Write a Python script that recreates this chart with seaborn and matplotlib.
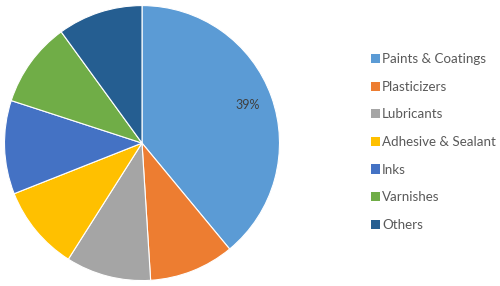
import matplotlib
matplotlib.use("Agg")
import matplotlib.pyplot as plt
import seaborn as sns
from matplotlib.patches import Patch

categories = ["Paints & Coatings", "Plasticizers", "Lubricants", "Adhesive & Sealant",
              "Inks", "Varnishes", "Others"]
shares = [39, 10, 10, 10, 11, 10, 10]
colors = ["#5B9BD5", "#ED7D31", "#A5A5A5", "#FFC000", "#4472C4", "#70AD47", "#255E91"]

sns.set_theme(style="white")
plt.rcParams['font.family'] = ['Lato', 'DejaVu Sans']
palette = sns.color_palette(colors)

fig = plt.figure(figsize=(5.0, 2.86), dpi=100)
fig.patch.set_facecolor("white")
ax = fig.add_axes([0.009, 0.019, 0.55, 0.9615])

def fmt(p):
    return f"{p:.0f}%" if p > 30 else ""

wedges, texts, autotexts = ax.pie(
    shares, colors=palette, startangle=90, counterclock=False,
    autopct=fmt, pctdistance=0.82,
    wedgeprops=dict(edgecolor="white", linewidth=0.8),
    textprops=dict(color="#404040", fontsize=9))
ax.set_xlim(-1.0, 1.0)
ax.set_ylim(-1.0, 1.0)
ax.set_aspect("equal")
ax.axis("off")

handles = [Patch(facecolor=c, edgecolor="none") for c in palette]
leg = fig.legend(handles, categories, loc="upper left",
                 bbox_to_anchor=(0.741, 0.814), frameon=False,
                 fontsize=9.6, handlelength=0.68, handleheight=0.68,
                 handletextpad=0.2, labelspacing=1.17, borderaxespad=0,
                 borderpad=0)
for t in leg.get_texts():
    t.set_color("#595959")

fig.savefig("out.png", dpi=100, facecolor="white")
